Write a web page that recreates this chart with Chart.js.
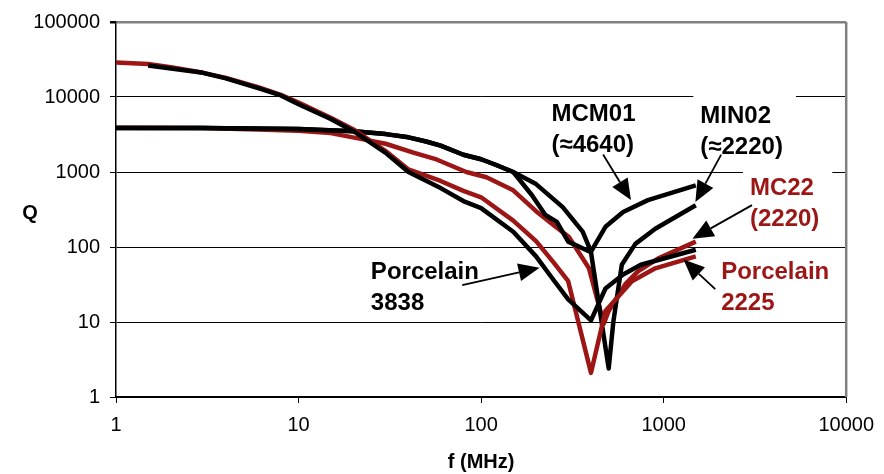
<!DOCTYPE html>
<html>
<head>
<meta charset="utf-8">
<script src="https://cdn.jsdelivr.net/npm/chart.js@4.4.1/dist/chart.umd.min.js"></script>
<style>
  html, body { margin: 0; padding: 0; background: #fff; }
</style>
</head>
<body>
<canvas id="qChart" width="884" height="474"></canvas>
<script>
// Q vs frequency
const xTicks = [1, 10, 100, 1000, 10000];
const yTicks = [1, 10, 100, 1000, 10000, 100000];

const porc2225F = [1, 1.5, 2, 3, 4, 6, 8, 10, 15, 20, 30, 40, 60, 80, 100, 150, 200, 250, 300, 400, 480, 670, 900, 1500];
const porc2225Q = [28800, 27500, 25000, 21000, 18000, 13500, 10700, 8400, 5300, 3700, 1900, 1080, 760, 560, 460, 225, 120, 62, 35, 2.1, 14, 35, 52, 75];

const porc3838F = [1.5, 2, 3, 4, 6, 8, 10, 15, 20, 30, 40, 60, 80, 100, 150, 200, 250, 300, 400, 480, 600, 750, 1500];
const porc3838Q = [26300, 24000, 21000, 17700, 13100, 10500, 8000, 5100, 3500, 1800, 1000, 610, 410, 330, 160, 75, 36, 20, 10.5, 28, 43, 58, 92];

const mcm01F = [1, 3, 10, 20, 30, 40, 50, 60, 80, 100, 120, 150, 200, 280, 360, 400, 480, 600, 820, 1500];
const mcm01Q = [3850, 3850, 3750, 3500, 3200, 2900, 2550, 2250, 1700, 1480, 1250, 1000, 690, 340, 160, 87, 186, 293, 422, 665];

const min02F = [1, 3, 10, 20, 30, 40, 50, 60, 80, 100, 120, 150, 190, 225, 260, 300, 400, 500, 530, 590, 700, 900, 1500];
const min02Q = [3850, 3850, 3750, 3500, 3200, 2900, 2550, 2250, 1700, 1480, 1250, 1000, 490, 267, 216, 118, 85, 2.4, 10, 58, 110, 175, 360];

const mc22F = [1, 3, 6, 10, 15, 23, 30, 43, 57, 83, 107, 150, 200, 257, 302, 390, 470, 500, 617, 720, 930, 1500];
const mc22Q = [3900, 3850, 3700, 3550, 3300, 2700, 2380, 1800, 1470, 1000, 850, 570, 300, 185, 137, 52, 9.5, 14, 32, 47, 70, 118];

// callout labels (anchor = left/baseline of first line, in f / Q units)
const labelText = [['MCM01', '(≈4640)'], ['MIN02', '(≈2220)'], ['MC22', '(2220)'], ['Porcelain', '2225'], ['Porcelain', '3838']];
const labelF = [243, 1589, 2970, 2066, 24.9];
const labelQ = [4800, 4510, 491, 37, 38];
const labelBox = [false, true, true, false, false];

// arrows, tail -> tip
const arrowFromF = [78.8, 466, 2066, 3048, 1918];
const arrowFromQ = [31, 1707, 1707, 362, 27.4];
const arrowToF = [209, 662, 1492, 1438, 1284];
const arrowToQ = [53, 422, 397, 129, 68];

const BLACK = '#000000';
const RED = '#9c1616';
const FONT = "'Liberation Sans', Arial, sans-serif";
const labelColor = [BLACK, BLACK, RED, RED, BLACK];

function pts(fs, qs) {
    return fs.map((f, i) => ({ x: f, y: qs[i] }));
}

function series(label, fs, qs, color) {
    return {
        label: label,
        data: pts(fs, qs),
        borderColor: color,
        borderWidth: 4.5,
        pointRadius: 0,
        fill: false,
        tension: 0,
        borderJoinStyle: 'round',
        borderCapStyle: 'butt'
    };
}

const callouts = {
    id: 'callouts',
    beforeDatasetsDraw(chart) {
        const { ctx, scales: { x, y } } = chart;
        ctx.save();
        ctx.font = 'bold 24px ' + FONT;
        labelText.forEach((lines, i) => {
            if (!labelBox[i]) return;
            const lx = x.getPixelForValue(labelF[i]);
            const ly = y.getPixelForValue(labelQ[i]);
            const w = Math.max(...lines.map(t => ctx.measureText(t).width));
            ctx.fillStyle = '#fff';
            ctx.fillRect(lx - 7, ly - 29, w + 20, 31 * lines.length + 14);
        });
        ctx.restore();
    },
    afterDatasetsDraw(chart) {
        const { ctx, chartArea, scales: { x, y } } = chart;
        ctx.save();
        // grey right edge of plot area
        ctx.strokeStyle = '#808080';
        ctx.lineWidth = 2.5;
        ctx.beginPath();
        ctx.moveTo(chartArea.right, chartArea.top);
        ctx.lineTo(chartArea.right, chartArea.bottom);
        ctx.stroke();

        // arrows
        ctx.strokeStyle = BLACK;
        ctx.fillStyle = BLACK;
        ctx.lineWidth = 1.8;
        arrowFromF.forEach((f, i) => {
            const x0 = x.getPixelForValue(f), y0 = y.getPixelForValue(arrowFromQ[i]);
            const x1 = x.getPixelForValue(arrowToF[i]), y1 = y.getPixelForValue(arrowToQ[i]);
            const a = Math.atan2(y1 - y0, x1 - x0);
            const len = 21, half = 9;
            const bx = x1 - len * Math.cos(a), by = y1 - len * Math.sin(a);
            ctx.beginPath();
            ctx.moveTo(x0, y0);
            ctx.lineTo(bx, by);
            ctx.stroke();
            ctx.beginPath();
            ctx.moveTo(x1, y1);
            ctx.lineTo(bx + half * Math.sin(a), by - half * Math.cos(a));
            ctx.lineTo(bx - half * Math.sin(a), by + half * Math.cos(a));
            ctx.closePath();
            ctx.fill();
        });

        // label text
        ctx.font = 'bold 24px ' + FONT;
        ctx.textAlign = 'left';
        ctx.textBaseline = 'alphabetic';
        labelText.forEach((lines, i) => {
            const lx = x.getPixelForValue(labelF[i]);
            const ly = y.getPixelForValue(labelQ[i]);
            ctx.fillStyle = labelColor[i];
            lines.forEach((t, j) => ctx.fillText(t, lx, ly + j * 31));
        });

        // upright y axis title
        ctx.fillStyle = BLACK;
        ctx.font = 'bold 20px ' + FONT;
        ctx.textAlign = 'center';
        ctx.textBaseline = 'middle';
        ctx.fillText('Q', 30, (chartArea.top + chartArea.bottom) / 2 + 4);
        ctx.restore();
    }
};

const ctx = document.getElementById('qChart').getContext('2d');
const chart = new Chart(ctx, {
    type: 'line',
    data: {
        datasets: [
            series('Porcelain 3838', porc3838F, porc3838Q, BLACK),
            series('Porcelain 2225', porc2225F, porc2225Q, RED),
            series('MCM01', mcm01F, mcm01Q, BLACK),
            series('MIN02', min02F, min02Q, BLACK),
            series('MC22', mc22F, mc22Q, RED)
        ]
    },
    options: {
        responsive: false,
        animation: false,
        layout: {
            padding: { top: 18, right: 32, left: 0, bottom: 0 }
        },
        plugins: {
            legend: { display: false },
            tooltip: { enabled: false }
        },
        scales: {
            x: {
                type: 'logarithmic',
                min: 1,
                max: 10000,
                afterBuildTicks: s => { s.ticks = xTicks.map(v => ({ value: v })); },
                afterFit: s => { s.height = 77; },
                grid: { drawOnChartArea: false, color: BLACK, tickLength: 6 },
                border: { color: BLACK, width: 1.5 },
                ticks: {
                    color: BLACK,
                    font: { family: FONT, size: 20 },
                    padding: 10,
                    autoSkip: false,
                    maxRotation: 0,
                    callback: v => String(v)
                },
                title: {
                    display: true,
                    text: 'f (MHz)',
                    color: BLACK,
                    font: { family: FONT, size: 20, weight: 'bold' },
                    padding: { top: 0, bottom: 0 }
                }
            },
            y: {
                type: 'logarithmic',
                min: 1,
                max: 100000,
                afterBuildTicks: s => { s.ticks = yTicks.map(v => ({ value: v })); },
                afterFit: s => { s.width = 116; },
                grid: {
                    color: c => (c.tick && c.tick.value === 100000) ? '#808080' : BLACK,
                    lineWidth: c => (c.tick && c.tick.value === 100000) ? 2.5 : 1,
                    tickColor: BLACK,
                    tickLength: 6
                },
                border: { color: BLACK, width: 1.5 },
                ticks: {
                    color: BLACK,
                    font: { family: FONT, size: 20 },
                    padding: 10,
                    autoSkip: false,
                    callback: v => String(v)
                }
            }
        }
    },
    plugins: [callouts]
});
</script>
</body>
</html>
